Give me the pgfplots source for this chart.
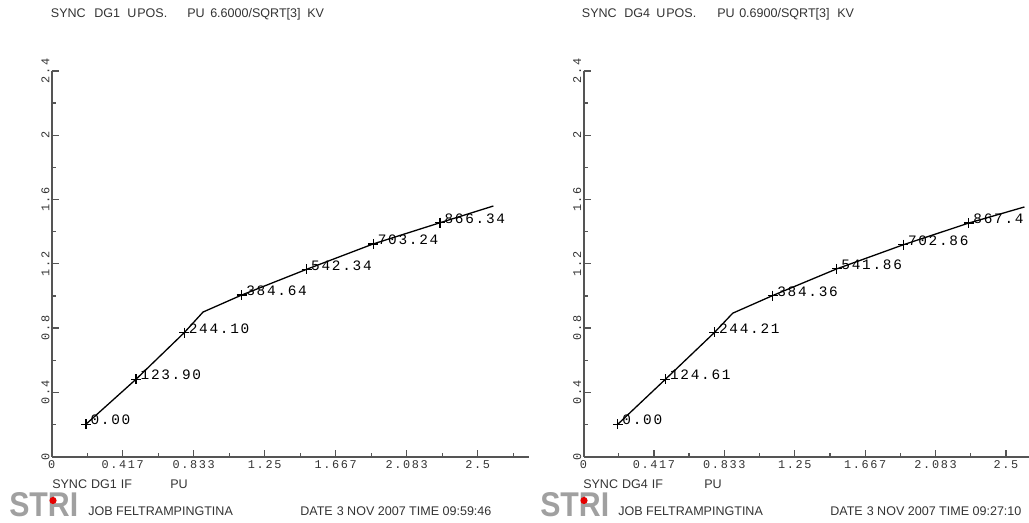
\documentclass[border=0pt]{standalone}
\usepackage{pgfplots}
\pgfplotsset{compat=1.18}
\usepackage{fontspec}
\setmainfont{Liberation Sans}
\newfontfamily\lblfam[LetterSpace=12]{Liberation Mono}
\newfontfamily\tickfam[LetterSpace=14]{Liberation Mono}
\newlength\px \setlength\px{0.75pt}
\definecolor{txt}{HTML}{333333}
\definecolor{axc}{HTML}{555555}
\definecolor{logo}{HTML}{A0A0A0}
\newcommand\lblfont{\lblfam\fontsize{10.8}{12}\selectfont}
\newcommand\tickfont{\tickfam\fontsize{8.9}{10}\selectfont}
\newcommand\txtfont{\fontsize{9.4}{11}\selectfont}

\pgfplotstableread{
x y label
0.201 0.202 0.00
0.495 0.482 123.90
0.778 0.772 244.10
1.115 1.006 384.64
1.496 1.166 542.34
1.887 1.324 703.24
2.279 1.456 866.34
}\leftpts
\pgfplotstableread{
x y
0.201 0.202
0.495 0.482
0.778 0.772
0.888 0.900
1.115 1.006
1.496 1.166
1.887 1.324
2.279 1.456
2.592 1.560
}\leftline
\pgfplotstableread{
x y label
0.203 0.202 0.00
0.485 0.482 124.61
0.775 0.773 244.21
1.120 1.003 384.36
1.499 1.169 541.86
1.893 1.319 702.86
2.280 1.454 867.4
}\rightpts
\pgfplotstableread{
x y
0.203 0.202
0.485 0.482
0.775 0.773
0.883 0.893
1.120 1.003
1.499 1.169
1.893 1.319
2.280 1.454
2.609 1.554
}\rightline

\pgfplotsset{
  striaxis/.style={
    xmin=0, xmax=2.8, ymin=0, ymax=2.4,
    y=160.7\px,
    axis lines*=left,
    axis line style={axc, line width=2\px},
    tick align=inside,
    major tick length=7\px,
    minor tick length=4\px,
    every tick/.style={axc, line width=1.3\px},
    xtick={0,0.41667,0.83333,1.25,1.66667,2.08333,2.5},
    xticklabels={0,0.417,0.833,1.25,1.667,2.083,2.5},
    minor xtick={0.20833,0.625,1.04167,1.45833,1.875,2.29167,2.70833},
    ytick={0,0.4,0.8,1.2,1.6,2,2.4},
    yticklabels={0,0.4,0.8,1.2,1.6,2,2.4},
    minor ytick={0.2,0.6,1.0,1.4,1.8,2.2},
    xticklabel style={font=\tickfont, text=txt, inner sep=0pt, yshift=-4\px},
    yticklabel style={font=\tickfont, text=txt, rotate=90, anchor=south, inner sep=2\px},
    anchor=south west,
  },
  lbl/.style={
    only marks, mark=+, mark size=5\px, black, mark options={line width=1.2\px},
    nodes near coords, point meta=explicit symbolic,
    every node near coord/.style={anchor=west, font=\lblfont, text=black, inner sep=0pt, xshift=4\px, yshift=4\px},
  },
}

\begin{document}
\begin{tikzpicture}[x=1\px,y=1\px]
\useasboundingbox (0,0) rectangle (1029,523);
\clip (0,0) rectangle (1029,523);

% ---------- left panel ----------
\begin{axis}[striaxis, at={(51.7\px,66.3\px)}, x=170.4\px]
\addplot[black, line width=1.3\px, no marks] table[x=x,y=y] {\leftline};
\addplot[lbl] table[x=x,y=y,meta=label] {\leftpts};
\end{axis}

\begin{scope}[every node/.style={font=\txtfont, text=txt, inner sep=0pt, anchor=base west}]
\node at (50.7,505.5) {SYNC};
\node at (94,505.5) {DG1};
\node at (127,505.5) {U\hspace{1\px}POS.};
\node at (187,505.5) {PU};
\node at (210,505.5) {6.6000/SQRT[3]};
\node at (307,505.5) {KV};
\node at (52,34) {SYNC\hspace{4\px}DG1\hspace{4\px}IF};
\node at (170,34) {PU};
\node at (88,7) {JOB FELTRAMPINGTINA};
\node at (300,7) {DATE\hspace{4\px}3 NOV 2007 TIME 09:59:46};
\end{scope}
\node[anchor=south west, inner sep=0pt, text=logo] at (9,6) {\resizebox{69\px}{24\px}{\bfseries STRI}};
\fill[red!90!black] (53,22.5) circle (3.6);

% ---------- right panel ----------
\begin{axis}[striaxis, at={(583.5\px,66.3\px)}, x=169\px]
\addplot[black, line width=1.3\px, no marks] table[x=x,y=y] {\rightline};
\addplot[lbl] table[x=x,y=y,meta=label] {\rightpts};
\end{axis}

\begin{scope}[every node/.style={font=\txtfont, text=txt, inner sep=0pt, anchor=base west}]
\node at (581.7,505.5) {SYNC};
\node at (624,505.5) {DG4};
\node at (656,505.5) {U\hspace{1\px}POS.};
\node at (717,505.5) {PU};
\node at (739,505.5) {0.6900/SQRT[3]};
\node at (837,505.5) {KV};
\node at (583,34) {SYNC\hspace{4\px}DG4\hspace{4\px}IF};
\node at (704,34) {PU};
\node at (618,7) {JOB FELTRAMPINGTINA};
\node at (830,7) {DATE\hspace{4\px}3 NOV 2007 TIME 09:27:10};
\end{scope}
\node[anchor=south west, inner sep=0pt, text=logo] at (540,6) {\resizebox{69\px}{24\px}{\bfseries STRI}};
\fill[red!90!black] (584,22.5) circle (3.6);
\end{tikzpicture}
\end{document}
